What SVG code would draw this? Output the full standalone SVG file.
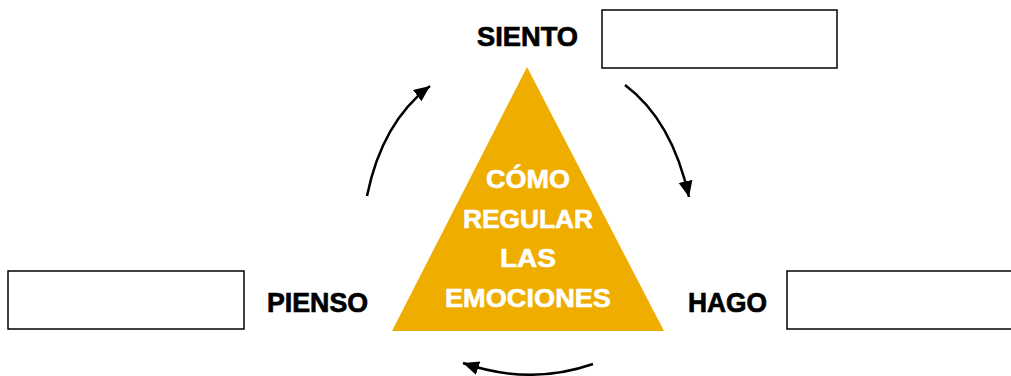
<svg xmlns="http://www.w3.org/2000/svg" width="1011" height="376" viewBox="0 0 1011 376">
<style>
.box{fill:#fff;stroke:#000;stroke-width:1.5}
.lbl{font-family:"Liberation Sans",Arial,sans-serif;font-weight:bold;font-size:27px;fill:#000;stroke:#000;stroke-width:0.7}
.tri{font-family:"Liberation Sans",Arial,sans-serif;font-weight:bold;font-size:26px;fill:#fff;stroke:#fff;stroke-width:0.6;text-anchor:middle}
.arr{fill:none;stroke:#000;stroke-width:2.5}
</style>
<defs>
<marker id="ah" markerUnits="userSpaceOnUse" markerWidth="18" markerHeight="16" refX="16" refY="7" orient="auto">
<path d="M0,0 L16,7 L0,14 Z" fill="#000"/>
</marker>
</defs>
<rect width="1011" height="376" fill="#fff"/>
<g id="connectors">
<path class="arr" d="M367,196 Q382,122 430,86" marker-end="url(#ah)"/>
<path class="arr" d="M625,85 Q672,120 689,197" marker-end="url(#ah)"/>
<path class="arr" d="M593,364 Q530,386 463,363" marker-end="url(#ah)"/>
</g>
<g id="center">
<polygon points="527,67 664,331 392,331" fill="#EFAD00"/>
<text class="tri" x="528" y="188" textLength="84" lengthAdjust="spacingAndGlyphs">CÓMO</text>
<text class="tri" x="528" y="228" textLength="130" lengthAdjust="spacingAndGlyphs">REGULAR</text>
<text class="tri" x="528" y="267" textLength="56" lengthAdjust="spacingAndGlyphs">LAS</text>
<text class="tri" x="528" y="307" textLength="166" lengthAdjust="spacingAndGlyphs">EMOCIONES</text>
</g>
<g id="siento">
<text class="lbl" x="477" y="46" textLength="101" lengthAdjust="spacingAndGlyphs">SIENTO</text>
<rect class="box" x="602" y="10" width="235" height="58"/>
</g>
<g id="pienso">
<rect class="box" x="8" y="271" width="236" height="58"/>
<text class="lbl" x="267" y="312" textLength="101" lengthAdjust="spacingAndGlyphs">PIENSO</text>
</g>
<g id="hago">
<text class="lbl" x="688" y="312" textLength="79" lengthAdjust="spacingAndGlyphs">HAGO</text>
<rect class="box" x="787" y="271" width="240" height="58"/>
</g>
</svg>
